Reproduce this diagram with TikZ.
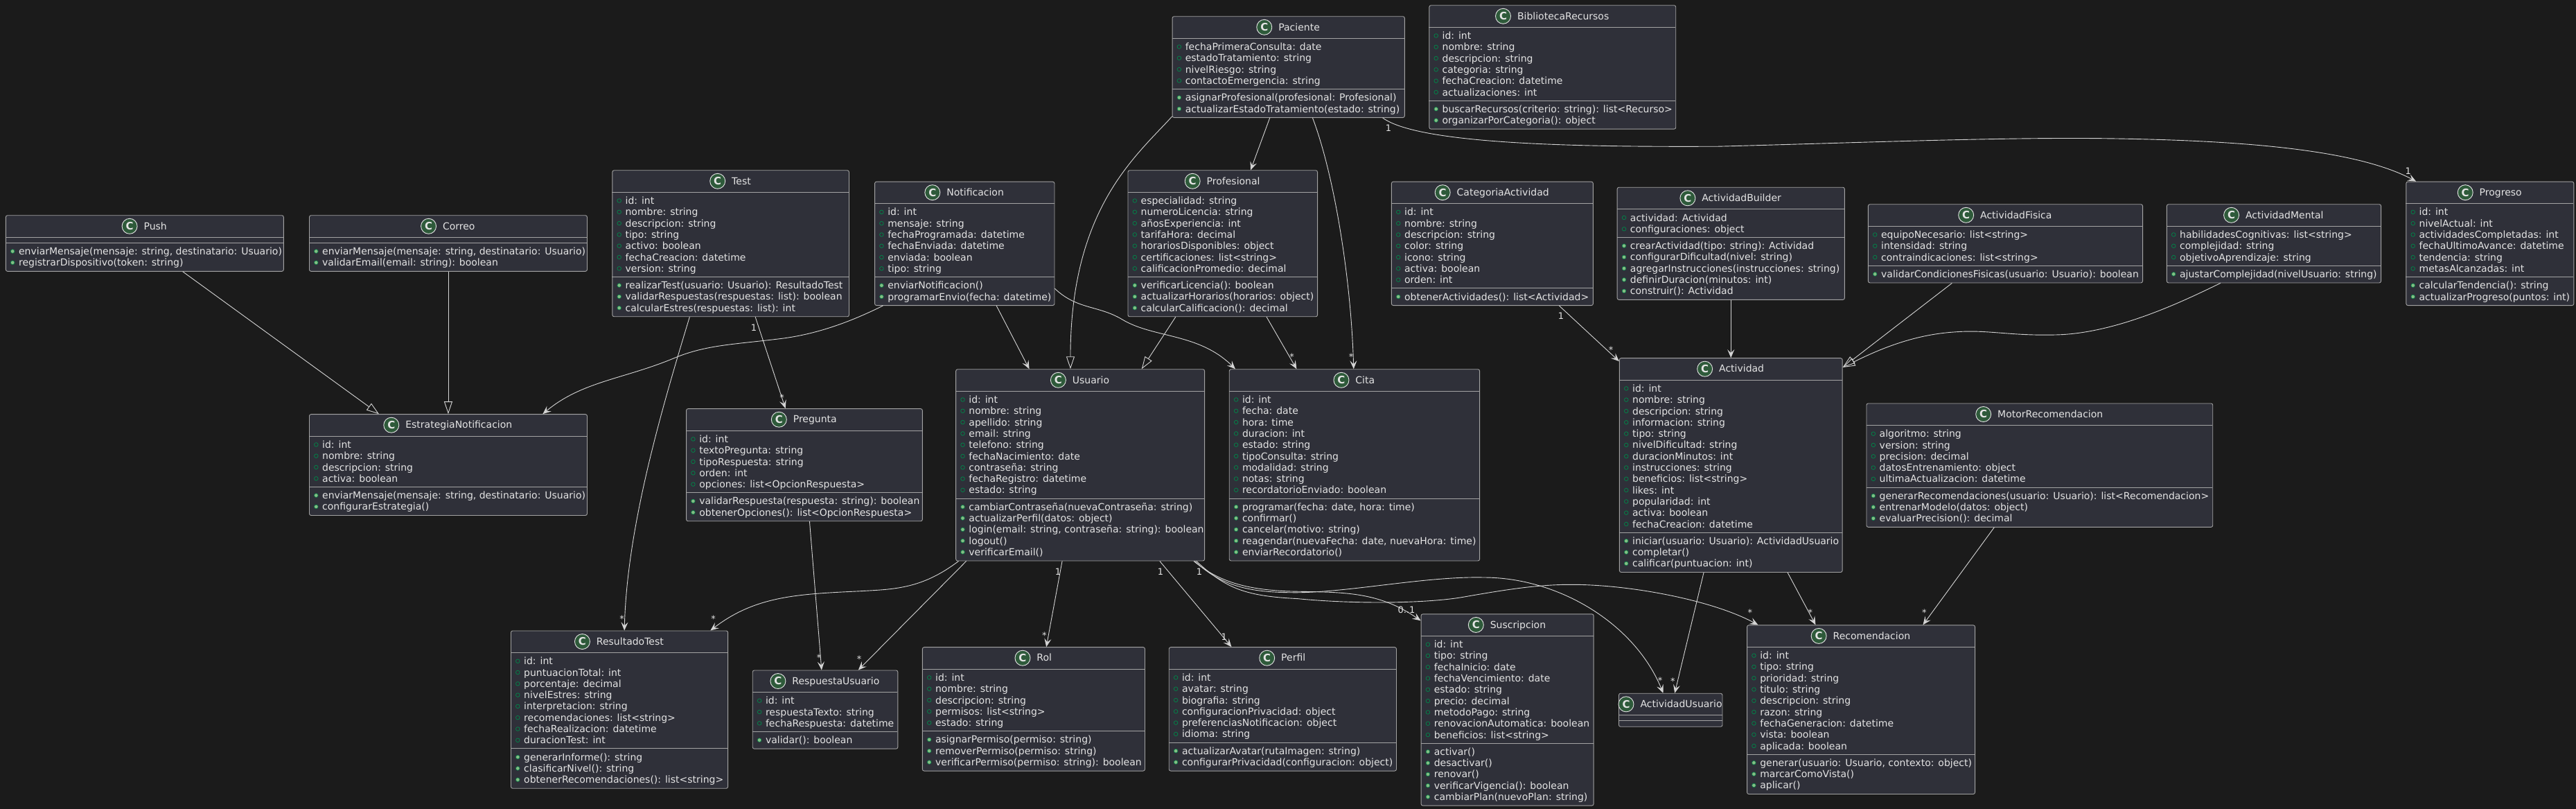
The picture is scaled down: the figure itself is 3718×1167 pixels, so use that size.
\documentclass[tikz,border=0pt]{standalone}
\usepackage{fontspec}
\setmainfont{DejaVu Sans}
\usetikzlibrary{arrows.meta}
\definecolor{bgc}{HTML}{1B1B1B}
\definecolor{boxc}{HTML}{2F3039}
\definecolor{edgec}{HTML}{A3A3A3}
\definecolor{textc}{HTML}{E4E4E4}
\definecolor{linec}{HTML}{D4D4D4}
\definecolor{iconc}{HTML}{2E5A3A}
\definecolor{fieldc}{HTML}{038048}
\definecolor{methc}{HTML}{84BE84}
\newcommand{\bodyfont}{\fontsize{14}{16}\selectfont}
\tikzset{
  classbox/.style={draw=edgec,fill=boxc,line width=0.9pt,rounded corners=2.5pt,inner sep=0pt,anchor=north west},
  sepline/.style={draw=edgec,line width=0.9pt},
  rowtext/.style={anchor=base west,inner sep=0pt,text=textc,font=\bodyfont},
  titletext/.style={anchor=base,inner sep=0pt,text=textc,font=\bodyfont},
  iconc/.style={circle,draw=textc,fill=iconc,line width=0.9pt,minimum size=22pt,inner sep=0pt,text=textc,font=\fontsize{15}{15}\selectfont\bfseries},
  fieldmark/.style={draw=fieldc,line width=0.8pt},
  methmark/.style={draw=fieldc,fill=methc,line width=0.6pt},
  lbl/.style={inner sep=0pt,text=textc,font=\fontsize{13}{13}\selectfont},
  assoc/.style={draw=linec,line width=0.9pt,-{Stealth[length=12pt,width=10pt,inset=5pt]}},
  inherit/.style={draw=linec,line width=0.9pt,-{Triangle[open,length=18pt,width=12pt]}}
}
% name, x, y, width, title, n attrs, attrs, n methods, methods
\newcommand{\umlclass}[9]{%
  \pgfmathsetmacro\boxh{32+(#6)*16.3+8+(#8)*16.3+8}
  \pgfmathsetmacro\methtop{#3+32+(#6)*16.3+8}
  \node[classbox,minimum width=#4pt,minimum height=\boxh pt] (#1) at (#2,#3) {};
  \draw[sepline] (#2,#3+32) -- (#2+#4,#3+32);
  \draw[sepline] (#2,\methtop) -- (#2+#4,\methtop);
  \node[titletext] (#1-title) at (#2+#4/2+15.8,#3+20.7) {#5};
  \node[iconc] (#1-icon) at ([xshift=-20.3pt,yshift=4.7pt]#1-title.base west) {C};
  \ifnum#6>0
    \foreach \rowtxt [count=\rn] in {#7} {
      \path[fieldmark] (#2+10.3,#3+32+17.2+\rn*16.3-16.3-5) circle[radius=2.8pt];
      \node[rowtext] (#1-a\rn) at (#2+19,#3+32+17.2+\rn*16.3-16.3) {\rowtxt};
    }
  \fi
  \ifnum#8>0
    \foreach \rowtxt [count=\rn] in {#9} {
      \path[methmark] (#2+10.3,\methtop+17.2+\rn*16.3-16.3-5) circle[radius=2.8pt];
      \node[rowtext] (#1-m\rn) at (#2+19,\methtop+17.2+\rn*16.3-16.3) {\rowtxt};
    }
  \fi
}
\begin{document}
\begin{tikzpicture}[x=1pt,y=-1pt]
\path[use as bounding box,fill=bgc] (0,0) rectangle (3718,1167);

\umlclass{Push}{7.9}{310.3}{401}{Push}{0}{}{2}{{enviarMensaje(mensaje: string, destinatario: Usuario)},{registrarDispositivo(token: string)}}
\umlclass{Correo}{446}{310.3}{401}{Correo}{0}{}{2}{{enviarMensaje(mensaje: string, destinatario: Usuario)},{validarEmail(email: string): boolean}}
\umlclass{Test}{883.4}{245.3}{341.6}{Test}{7}{{id: int},{nombre: string},{descripcion: string},{tipo: string},{activo: boolean},{fechaCreacion: datetime},{version: string}}{3}{{realizarTest(usuario: Usuario): ResultadoTest},{validarRespuestas(respuestas: list): boolean},{calcularEstres(respuestas: list): int}}
\umlclass{Paciente}{1691.6}{23.3}{335.3}{Paciente}{4}{{fechaPrimeraConsulta: date},{estadoTratamiento: string},{nivelRiesgo: string},{contactoEmergencia: string}}{2}{{asignarProfesional(profesional: Profesional)},{actualizarEstadoTratamiento(estado: string)}}
\umlclass{Biblioteca}{2062.4}{7.3}{355.9}{BibliotecaRecursos}{6}{{id: int},{nombre: string},{descripcion: string},{categoria: string},{fechaCreacion: datetime},{actualizaciones: int}}{2}{{buscarRecursos(criterio: string): list<Recurso>},{organizarPorCategoria(): object}}
\umlclass{Profesional}{1627.5}{245.3}{273.6}{Profesional}{7}{{especialidad: string},{numeroLicencia: string},{añosExperiencia: int},{tarifaHora: decimal},{horariosDisponibles: object},{certificaciones: list<string>},{calificacionPromedio: decimal}}{3}{{verificarLicencia(): boolean},{actualizarHorarios(horarios: object)},{calcularCalificacion(): decimal}}
\umlclass{Notificacion}{1262.1}{261.7}{259.4}{Notificacion}{6}{{id: int},{mensaje: string},{fechaProgramada: datetime},{fechaEnviada: datetime},{enviada: boolean},{tipo: string}}{2}{{enviarNotificacion()},{programarEnvio(fecha: datetime)}}
\umlclass{Categoria}{2007.9}{261.7}{291}{CategoriaActividad}{7}{{id: int},{nombre: string},{descripcion: string},{color: string},{icono: string},{activa: boolean},{orden: int}}{1}{{obtenerActividades(): list<Actividad>}}
\umlclass{Builder}{2333.7}{269.8}{328.2}{ActividadBuilder}{2}{{actividad: Actividad},{configuraciones: object}}{5}{{crearActividad(tipo: string): Actividad},{configurarDificultad(nivel: string)},{agregarInstrucciones(instrucciones: string)},{definirDuracion(minutos: int)},{construir(): Actividad}}
\umlclass{Usuario}{1379.2}{532.3}{359}{Usuario}{9}{{id: int},{nombre: string},{apellido: string},{email: string},{telefono: string},{fechaNacimiento: date},{contraseña: string},{fechaRegistro: datetime},{estado: string}}{5}{{cambiarContraseña(nuevaContraseña: string)},{actualizarPerfil(datos: object)},{login(email: string, contraseña: string): boolean},{logout()},{verificarEmail()}}
\umlclass{Cita}{1773.8}{532.3}{361.4}{Cita}{9}{{id: int},{fecha: date},{hora: time},{duracion: int},{estado: string},{tipoConsulta: string},{modalidad: string},{notas: string},{recordatorioEnviado: boolean}}{5}{{programar(fecha: date, hora: time)},{confirmar()},{cancelar(motivo: string)},{reagendar(nuevaFecha: date, nuevaHora: time)},{enviarRecordatorio()}}
\umlclass{Actividad}{2336.9}{516.2}{321.8}{Actividad}{13}{{id: int},{nombre: string},{descripcion: string},{informacion: string},{tipo: string},{nivelDificultad: string},{duracionMinutos: int},{instrucciones: string},{beneficios: list<string>},{likes: int},{popularidad: int},{activa: boolean},{fechaCreacion: datetime}}{3}{{iniciar(usuario: Usuario): ActividadUsuario},{completar()},{calificar(puntuacion: int)}}
\umlclass{Fisica}{2695.9}{294.3}{396.2}{ActividadFisica}{3}{{equipoNecesario: list<string>},{intensidad: string},{contraindicaciones: list<string>}}{1}{{validarCondicionesFisicas(usuario: Usuario): boolean}}
\umlclass{Mental}{3126.9}{294.3}{309.2}{ActividadMental}{3}{{habilidadesCognitivas: list<string>},{complejidad: string},{objetivoAprendizaje: string}}{1}{{ajustarComplejidad(nivelUsuario: string)}}
\umlclass{Progreso}{3472.4}{261.7}{242}{Progreso}{6}{{id: int},{nivelActual: int},{actividadesCompletadas: int},{fechaUltimoAvance: datetime},{tendencia: string},{metasAlcanzadas: int}}{2}{{calcularTendencia(): string},{actualizarProgreso(puntos: int)}}
\umlclass{Motor}{2693.5}{581.5}{499.8}{MotorRecomendacion}{5}{{algoritmo: string},{version: string},{precision: decimal},{datosEntrenamiento: object},{ultimaActualizacion: datetime}}{3}{{generarRecomendaciones(usuario: Usuario): list<Recomendacion>},{entrenarModelo(datos: object)},{evaluarPrecision(): decimal}}
\umlclass{Recomendacion}{2521.1}{901.4}{329}{Recomendacion}{9}{{id: int},{tipo: string},{prioridad: string},{titulo: string},{descripcion: string},{razon: string},{fechaGeneracion: datetime},{vista: boolean},{aplicada: boolean}}{3}{{generar(usuario: Usuario, contexto: object)},{marcarComoVista()},{aplicar()}}
\umlclass{Estrategia}{446}{597.2}{401}{EstrategiaNotificacion}{4}{{id: int},{nombre: string},{descripcion: string},{activa: boolean}}{2}{{enviarMensaje(mensaje: string, destinatario: Usuario)},{configurarEstrategia()}}
\umlclass{Pregunta}{990.1}{589.2}{340.8}{Pregunta}{5}{{id: int},{textoPregunta: string},{tipoRespuesta: string},{orden: int},{opciones: list<OpcionRespuesta>}}{2}{{validarRespuesta(respuesta: string): boolean},{obtenerOpciones(): list<OpcionRespuesta>}}
\umlclass{Resultado}{737}{909.5}{313.2}{ResultadoTest}{8}{{id: int},{puntuacionTotal: int},{porcentaje: decimal},{nivelEstres: string},{interpretacion: string},{recomendaciones: list<string>},{fechaRealizacion: datetime},{duracionTest: int}}{3}{{generarInforme(): string},{clasificarNivel(): string},{obtenerRecomendaciones(): list<string>}}
\umlclass{Respuesta}{1085.8}{966.5}{209.6}{RespuestaUsuario}{3}{{id: int},{respuestaTexto: string},{fechaRespuesta: datetime}}{1}{{validar(): boolean}}
\umlclass{Rol}{1330.9}{933.2}{321.1}{Rol}{5}{{id: int},{nombre: string},{descripcion: string},{permisos: list<string>},{estado: string}}{3}{{asignarPermiso(permiso: string)},{removerPermiso(permiso: string)},{verificarPermiso(permiso: string): boolean}}
\umlclass{Perfil}{1686.8}{933.2}{328.2}{Perfil}{6}{{id: int},{avatar: string},{biografia: string},{configuracionPrivacidad: object},{preferenciasNotificacion: object},{idioma: string}}{2}{{actualizarAvatar(rutaImagen: string)},{configurarPrivacidad(configuracion: object)}}
\umlclass{Suscripcion}{2050.6}{885.4}{249.1}{Suscripcion}{9}{{id: int},{tipo: string},{fechaInicio: date},{fechaVencimiento: date},{estado: string},{precio: decimal},{metodoPago: string},{renovacionAutomatica: boolean},{beneficios: list<string>}}{5}{{activar()},{desactivar()},{renovar()},{verificarVigencia(): boolean},{cambiarPlan(nuevoPlan: string)}}
\umlclass{ActUsuario}{2336}{999.8}{149.5}{ActividadUsuario}{0}{}{0}{}

% inheritance
\draw[inherit] ([xshift=54.9pt]Push.south) -- ([xshift=-100pt]Estrategia.north);
\draw[inherit] (Correo.south) -- (Estrategia.north);
\draw[inherit] ([yshift=2pt]Paciente.south west) .. controls (1640,225) and (1545,300) .. ([xshift=-14.2pt]Usuario.north);
\draw[inherit] ([xshift=-68pt]Profesional.south) -- ([xshift=88.6pt]Usuario.north);
\draw[inherit] ([xshift=-77.1pt]Fisica.south) -- ([yshift=-13.8pt]Actividad.north east);
\draw[inherit] ([xshift=-77.1pt]Mental.south) .. controls (3160,430) and (3060,480) .. (2970.3,482.9) .. controls (2900,485) and (2870,475) .. (2820,479) .. controls (2760,483) and (2710,505) .. ([yshift=-13.8pt]Actividad.north east);

% associations
\draw[assoc] ([xshift=-117.8pt]Notificacion.south) .. controls (1240,458) and (1190,480) .. (1131,488) .. controls (1060,497) and (1020,497) .. (973,516.6) .. controls (900,547) and (840,550) .. ([xshift=136.4pt]Estrategia.north);
\draw[assoc] ([xshift=45.9pt]Notificacion.south) -- ([xshift=-73.6pt]Usuario.north);
\draw[assoc] ([yshift=-154.6pt]Notificacion.north east) .. controls (1555,447) and (1585,440) .. (1620,461) .. controls (1665,488) and (1730,480) .. ([xshift=-172pt]Cita.north);
\draw[assoc] ([xshift=-26.95pt]Paciente.south) -- ([xshift=40.3pt]Profesional.north);
\draw[assoc] ([xshift=34.75pt]Paciente.south) .. controls (1925,250) and (1950,400) .. ([xshift=-1.2pt]Cita.north);
\draw[assoc] ([xshift=135.95pt]Paciente.south) .. controls (2050,210) and (2300,212) .. (2480,211.2) .. controls (2680,206) and (2880,198) .. (3033.6,199.7) .. controls (3230,202) and (3400,215) .. ([xshift=-106.7pt]Progreso.north);
\draw[assoc] ([xshift=-59.3pt]Test.south) .. controls (955,590) and (905,760) .. ([xshift=7.1pt]Resultado.north);
\draw[assoc] ([xshift=35.5pt]Test.south) -- ([xshift=-27.3pt]Pregunta.north);
\draw[assoc] ([xshift=7.5pt]Pregunta.south) -- ([xshift=-5.2pt]Respuesta.north);
\draw[assoc] ([xshift=-175.6pt]Usuario.south) .. controls (1330,850) and (1290,850) .. (1240,852.8) .. controls (1150,857) and (1090,860) .. ([xshift=131.3pt]Resultado.north);
\draw[assoc] ([xshift=-164.5pt]Usuario.south) -- ([xshift=47.8pt]Respuesta.north);
\draw[assoc] ([xshift=-26.1pt]Usuario.south) -- ([xshift=18.25pt]Rol.north);
\draw[assoc] ([xshift=114.7pt]Usuario.south) -- ([xshift=-73.9pt]Perfil.north);
\draw[assoc] ([xshift=163.7pt]Usuario.south) .. controls (1760,840) and (1800,850) .. (1856.8,852.8) .. controls (1930,855) and (1985,850) .. ([yshift=-9.9pt]Suscripcion.north west);
\draw[assoc] ([xshift=165.3pt]Usuario.south) .. controls (1765,848) and (1810,855) .. (1872.6,854.8) .. controls (1950,854) and (2060,831) .. (2141.5,833) .. controls (2250,833) and (2360,900) .. ([xshift=-10.75pt]ActUsuario.north);
\draw[assoc] ([xshift=167.6pt]Usuario.south) .. controls (1770,850) and (1800,860) .. (1872.6,863.6) .. controls (1960,872) and (2060,870) .. (2110,861.6) .. controls (2170,851) and (2220,843) .. (2268,843.3) .. controls (2350,843) and (2470,865) .. ([xshift=-148.6pt]Recomendacion.north);
\draw[assoc] ([xshift=-39.2pt]Actividad.south) -- ([xshift=5.95pt]ActUsuario.north);
\draw[assoc] ([xshift=81.8pt]Actividad.south) -- ([xshift=-65.6pt]Recomendacion.north);
\draw[assoc] ([xshift=-65.6pt]Motor.south) -- ([xshift=89.4pt]Recomendacion.north);
\draw[assoc] (Builder.south) -- (Actividad.north);
\draw[assoc] ([xshift=96.5pt]Categoria.south) -- ([yshift=-5pt]Actividad.north west);
\draw[assoc] ([xshift=63.3pt]Profesional.south) -- ([xshift=-83.5pt]Cita.north);

% multiplicities
\node[lbl] (m1) at (1088,473) {1};
\node[lbl] (m2) at (1128.5,574) {*};
\node[lbl] (m3) at (2003.9,184.8) {1};
\node[lbl] (m4) at (3475.6,246.8) {1};
\node[lbl] (m5) at (1864.7,514.7) {*};
\node[lbl] (m6) at (1950,514.7) {*};
\node[lbl] (m7) at (2253,455.4) {1};
\node[lbl] (m8) at (2325,504.3) {*};
\node[lbl] (m9) at (897.6,892.3) {*};
\node[lbl] (m10) at (1029.6,892.3) {*};
\node[lbl] (m11) at (1182,948.9) {*};
\node[lbl] (m12) at (1240,950.8) {*};
\node[lbl] (m13) at (1527,824.5) {1};
\node[lbl] (m14) at (1507.3,916.7) {*};
\node[lbl] (m15) at (1675,824.5) {1};
\node[lbl] (m16) at (1766.7,918.3) {1};
\node[lbl] (m17) at (1731,824.5) {1};
\node[lbl] (m18) at (2030,879.6) {0..1};
\node[lbl] (m19) at (2396,982) {*};
\node[lbl] (m20) at (2414.3,982.2) {*};
\node[lbl] (m21) at (2525.9,883.8) {*};
\node[lbl] (m22) at (2612.9,883.8) {*};
\node[lbl] (m23) at (2777.3,883.8) {*};
\end{tikzpicture}
\end{document}
